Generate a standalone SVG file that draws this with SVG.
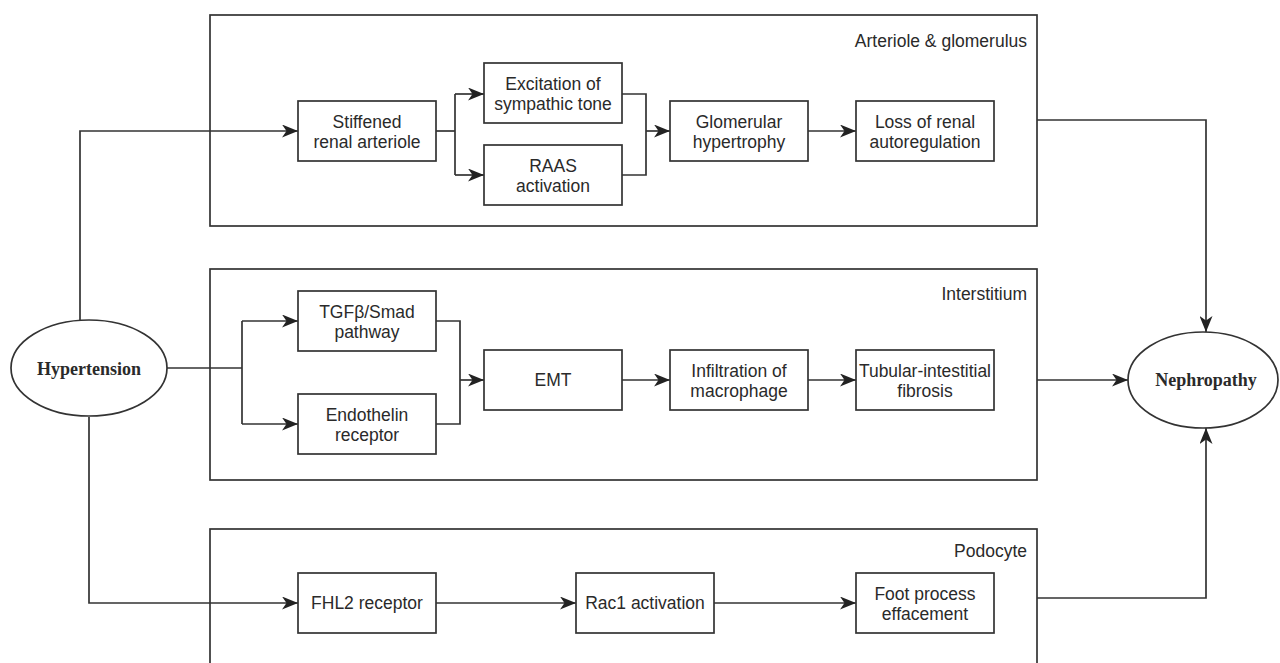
<svg xmlns="http://www.w3.org/2000/svg" width="1280" height="663" viewBox="0 0 1280 663">
<style>
.c{fill:none;stroke:#333;stroke-width:1.7}
.b{fill:#fff;stroke:#333;stroke-width:1.7}
.t{font-family:"Liberation Sans",Arial,sans-serif;font-size:17.5px;fill:#2a2a2a;text-anchor:middle}
.l{font-family:"Liberation Sans",Arial,sans-serif;font-size:17.5px;fill:#2a2a2a;text-anchor:end}
.e{font-family:"Liberation Serif","Times New Roman",serif;font-size:18px;font-weight:bold;fill:#2a2a2a;text-anchor:middle}
.k{fill:none;stroke:#333;stroke-width:1.7}
</style>
<defs>
<marker id="a" viewBox="0 0 16 13" refX="16" refY="6.5" markerWidth="16" markerHeight="13" markerUnits="userSpaceOnUse" orient="auto">
<path d="M0,0 L16,6.5 L0,13 L4.5,6.5 z" fill="#222"/>
</marker>
</defs>
<rect width="1280" height="663" fill="#fff"/>

<g id="container-arteriole">
<rect class="k" x="210" y="15" width="827" height="211"/>
<text class="l" x="1027" y="47">Arteriole &amp; glomerulus</text>
</g>
<g id="container-interstitium">
<rect class="k" x="210" y="269" width="827" height="211"/>
<text class="l" x="1027" y="300">Interstitium</text>
</g>
<g id="container-podocyte">
<rect class="k" x="210" y="529" width="827" height="200"/>
<text class="l" x="1027" y="557">Podocyte</text>
</g>

<g id="connectors">
<path class="c" d="M80,320 V131 H298" marker-end="url(#a)"/>
<path class="c" d="M167,368 H242"/>
<path class="c" d="M242,321 V424"/>
<path class="c" d="M242,321 H298" marker-end="url(#a)"/>
<path class="c" d="M242,424 H298" marker-end="url(#a)"/>
<path class="c" d="M89,417 V603 H298" marker-end="url(#a)"/>
<path class="c" d="M436,131 H455"/>
<path class="c" d="M455,94 V175"/>
<path class="c" d="M455,94 H484" marker-end="url(#a)"/>
<path class="c" d="M455,175 H484" marker-end="url(#a)"/>
<path class="c" d="M622,94 H646 V175 H622"/>
<path class="c" d="M646,131 H670" marker-end="url(#a)"/>
<path class="c" d="M808,131 H856" marker-end="url(#a)"/>
<path class="c" d="M1037,120 H1206 V332" marker-end="url(#a)"/>
<path class="c" d="M436,321 H460 V424 H436"/>
<path class="c" d="M460,380 H484" marker-end="url(#a)"/>
<path class="c" d="M622,380 H670" marker-end="url(#a)"/>
<path class="c" d="M808,380 H856" marker-end="url(#a)"/>
<path class="c" d="M1037,380 H1128" marker-end="url(#a)"/>
<path class="c" d="M436,603 H576" marker-end="url(#a)"/>
<path class="c" d="M714,603 H856" marker-end="url(#a)"/>
<path class="c" d="M1037,598 H1206 V428" marker-end="url(#a)"/>
</g>

<g id="hypertension">
<ellipse class="b" cx="89" cy="368" rx="78" ry="48"/>
<text class="e" x="89" y="375">Hypertension</text>
</g>
<g id="nephropathy">
<ellipse class="b" cx="1203" cy="380" rx="75" ry="48"/>
<text class="e" x="1206" y="386">Nephropathy</text>
</g>

<g id="stiffened">
<rect class="b" x="298" y="101" width="138" height="60"/>
<text class="t" x="367" y="127.5">Stiffened</text>
<text class="t" x="367" y="148">renal arteriole</text>
</g>
<g id="excitation">
<rect class="b" x="484" y="63" width="138" height="60"/>
<text class="t" x="553" y="89.5">Excitation of</text>
<text class="t" x="553" y="110">sympathic tone</text>
</g>
<g id="raas">
<rect class="b" x="484" y="145" width="138" height="60"/>
<text class="t" x="553" y="171.5">RAAS</text>
<text class="t" x="553" y="192">activation</text>
</g>
<g id="glomerular">
<rect class="b" x="670" y="101" width="138" height="60"/>
<text class="t" x="739" y="127.5">Glomerular</text>
<text class="t" x="739" y="148">hypertrophy</text>
</g>
<g id="loss">
<rect class="b" x="856" y="101" width="138" height="60"/>
<text class="t" x="925" y="127.5">Loss of renal</text>
<text class="t" x="925" y="148">autoregulation</text>
</g>

<g id="tgf">
<rect class="b" x="298" y="291" width="138" height="60"/>
<text class="t" x="367" y="317.5">TGFβ/Smad</text>
<text class="t" x="367" y="338">pathway</text>
</g>
<g id="endothelin">
<rect class="b" x="298" y="394" width="138" height="60"/>
<text class="t" x="367" y="420.5">Endothelin</text>
<text class="t" x="367" y="441">receptor</text>
</g>
<g id="emt">
<rect class="b" x="484" y="350" width="138" height="60"/>
<text class="t" x="553" y="386">EMT</text>
</g>
<g id="infiltration">
<rect class="b" x="670" y="350" width="138" height="60"/>
<text class="t" x="739" y="376.5">Infiltration of</text>
<text class="t" x="739" y="397">macrophage</text>
</g>
<g id="tubular">
<rect class="b" x="856" y="350" width="138" height="60"/>
<text class="t" x="925" y="376.5" textLength="132" lengthAdjust="spacingAndGlyphs">Tubular-intestitial</text>
<text class="t" x="925" y="397">fibrosis</text>
</g>

<g id="fhl2">
<rect class="b" x="298" y="573" width="138" height="60"/>
<text class="t" x="367" y="609">FHL2 receptor</text>
</g>
<g id="rac1">
<rect class="b" x="576" y="573" width="138" height="60"/>
<text class="t" x="645" y="609">Rac1 activation</text>
</g>
<g id="foot">
<rect class="b" x="856" y="573" width="138" height="60"/>
<text class="t" x="925" y="599.5">Foot process</text>
<text class="t" x="925" y="620">effacement</text>
</g>
</svg>
